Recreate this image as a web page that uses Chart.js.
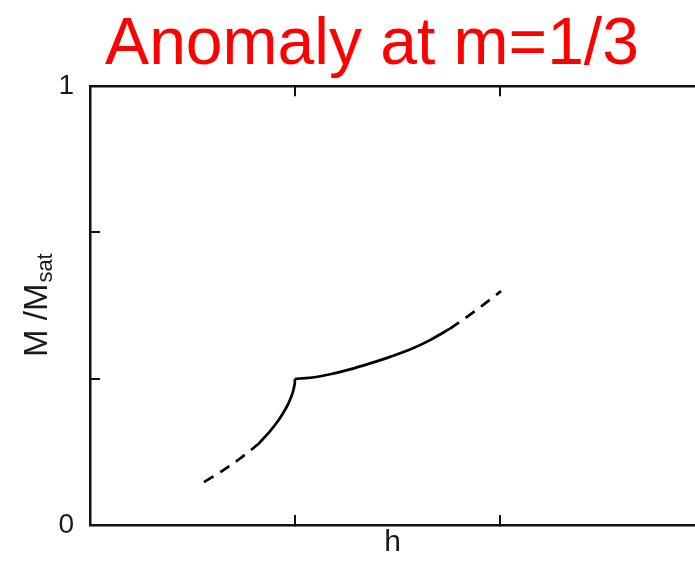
<!DOCTYPE html>
<html><head><meta charset="utf-8">
<script src="https://cdn.jsdelivr.net/npm/chart.js@4/dist/chart.umd.min.js"></script>
<style>html,body{margin:0;padding:0;background:#fff;overflow:hidden}#wrap{width:695px;height:561px;position:relative}</style>
</head><body><div id="wrap"><canvas id="c" width="695" height="561"></canvas></div>
<script>
// ---- text ----
const chartTitle = 'Anomaly at m=1/3';
const xAxisTitle = 'h';
const yAxisMain = 'M /M';
const yAxisSub = 'sat';

// ---- ticks ----
const xTickValues = [1, 2];
const yTickValues = [0, 1/3, 2/3, 1];
const yTickLabels = ['0', '', '', '1'];

// ---- curve (h, M/Msat) ----
const lowerDashedH = [0.5561, 0.6439, 0.7317, 0.8210];
const lowerDashedM = [0.0979, 0.1230, 0.1515, 0.1845];
const lowerSolidH  = [0.8210, 0.8785, 0.9168, 0.9450, 0.9664, 0.9811, 0.9907, 0.9964, 0.9992, 1.0];
const lowerSolidM  = [0.1845, 0.2141, 0.2369, 0.2574, 0.2756, 0.2916, 0.3052, 0.3166, 0.3257, 0.3333];
const upperSolidH  = [1.0, 1.0732, 1.1707, 1.2683, 1.3659, 1.4634, 1.5610, 1.6585, 1.7561];
const upperSolidM  = [0.3333, 0.3355, 0.3435, 0.3547, 0.3683, 0.3831, 0.3998, 0.4214, 0.4476];
const upperDashedH = [1.7561, 1.8780, 2.0049];
const upperDashedM = [0.4476, 0.4875, 0.5330];

function pts(xs, ys){ return xs.map((x,i)=>({x:x, y:ys[i]})); }

const LINE = '#000000';
const AXIS = '#111111';
const TEXT = '#1a1a1a';

function lineDs(xs, ys, dashed){
  return {
    data: pts(xs, ys), xAxisID:'x', yAxisID:'y',
    borderColor: LINE, borderWidth: 2.7, pointRadius: 0,
    borderDash: dashed ? [11, 8] : [], cubicInterpolationMode: 'monotone',
    fill: false, borderCapStyle: 'butt'
  };
}

const framePlugin = {
  id: 'frame',
  afterLayout(chart){
    const t = chart.titleBlock;
    if (t) { t.left = 49; t.right = 695; }
  },
  afterDraw(chart){
    const ctx = chart.ctx;
    const ca = chart.chartArea;
    const cy = (ca.top + ca.bottom) / 2;
    ctx.save();
    ctx.fillStyle = TEXT;
    ctx.textBaseline = 'alphabetic';
    ctx.textAlign = 'left';
    const fMain = '33px "Liberation Sans", Arial, sans-serif';
    const fSub = '22px "Liberation Sans", Arial, sans-serif';
    ctx.font = fMain; const w1 = ctx.measureText(yAxisMain).width;
    ctx.font = fSub; const w2 = ctx.measureText(yAxisSub).width;
    ctx.translate(47, cy);
    ctx.rotate(-Math.PI/2);
    const x0 = -(w1 + w2) / 2;
    ctx.font = fMain; ctx.fillText(yAxisMain, x0, 0);
    ctx.font = fSub; ctx.fillText(yAxisSub, x0 + w1 + 1, 5);
    ctx.restore();
  }
};

new Chart(document.getElementById('c'), {
  type: 'line',
  data: { datasets: [
    lineDs(lowerDashedH, lowerDashedM, true),
    lineDs(lowerSolidH, lowerSolidM, false),
    lineDs(upperSolidH, upperSolidM, false),
    lineDs(upperDashedH, upperDashedM, true)
  ]},
  options: {
    responsive: false, devicePixelRatio: 1, animation: false,
    layout: { padding: 0 },
    plugins: {
      legend: { display: false }, tooltip: { enabled: false },
      title: {
        display: true, text: chartTitle, color: '#ff0000',
        font: { family: '"Liberation Sans", Arial, sans-serif', size: 66, weight: 'normal', lineHeight: 1.2 },
        padding: { top: 6, bottom: 1 }
      }
    },
    scales: {
      x: {
        type: 'linear', position: 'bottom', min: 0, max: 2.951,
        afterBuildTicks(s){ s.ticks = xTickValues.map(v=>({value:v})); },
        afterFit(s){ s.height = 36; s.paddingLeft = 0; s.paddingRight = 0; },
        ticks: { display: false },
        grid: { drawOnChartArea: false, drawTicks: true, tickLength: -10, color: AXIS, lineWidth: 2 },
        border: { display: true, color: AXIS, width: 2.5 },
        title: { display: true, text: xAxisTitle, color: TEXT, padding: 0,
          font: { family: '"Liberation Sans", Arial, sans-serif', size: 30, lineHeight: 1.2 } }
      },
      x2: {
        type: 'linear', position: 'top', min: 0, max: 2.951,
        afterBuildTicks(s){ s.ticks = xTickValues.map(v=>({value:v})); },
        afterFit(s){ s.height = 0; s.paddingLeft = 0; s.paddingRight = 0; },
        ticks: { display: false },
        grid: { drawOnChartArea: false, drawTicks: true, tickLength: -10, color: AXIS, lineWidth: 2 },
        border: { display: true, color: AXIS, width: 2.5 }
      },
      y: {
        type: 'linear', position: 'left', min: 0, max: 1,
        afterBuildTicks(s){ s.ticks = yTickValues.map(v=>({value:v})); },
        afterFit(s){ s.width = 90; s.paddingTop = 0; s.paddingBottom = 0; },
        ticks: {
          color: TEXT, padding: 26, autoSkip: false,
          font: { family: '"Liberation Sans", Arial, sans-serif', size: 28 },
          callback(v, i){ return yTickLabels[i]; }
        },
        grid: { drawOnChartArea: false, drawTicks: true, tickLength: -10, color: AXIS, lineWidth: 2 },
        border: { display: true, color: AXIS, width: 2.5 }
      }
    }
  },
  plugins: [framePlugin]
});
</script></body></html>
